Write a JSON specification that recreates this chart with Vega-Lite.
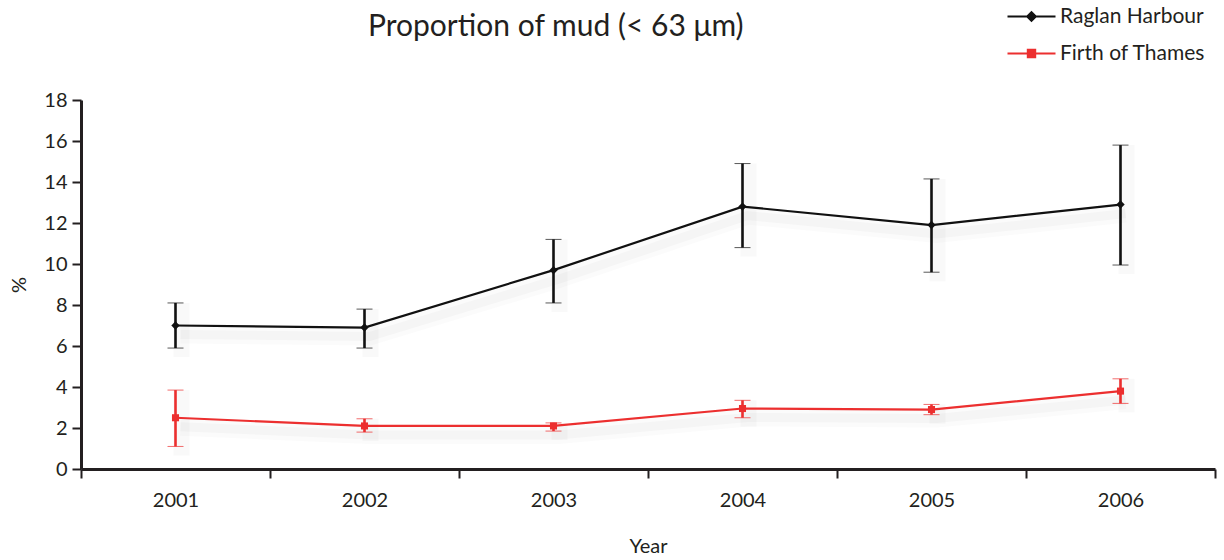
{
  "$schema": "https://vega.github.io/schema/vega-lite/v6.json",
  "autosize": "none",
  "width": 1134,
  "height": 369,
  "padding": {"left": 81, "top": 100, "right": 9, "bottom": 91},
  "background": "white",
  "config": {
    "font": "Lato",
    "view": {"stroke": null},
    "axis": {"domainColor": "#231f20", "tickColor": "#231f20", "labelColor": "#231f20", "titleColor": "#231f20", "grid": false}
  },
  "title": {
    "text": "Proportion of mud (< 63 μm)",
    "fontSize": 30,
    "fontWeight": "normal",
    "color": "#231f20",
    "anchor": "start",
    "frame": "group",
    "dx": 287,
    "offset": -37
  },
  "data": {
    "values": [
      {"Year": "2001", "site": "Raglan Harbour", "value": 7.0, "lo": 5.9, "hi": 8.1},
      {"Year": "2002", "site": "Raglan Harbour", "value": 6.9, "lo": 5.9, "hi": 7.8},
      {"Year": "2003", "site": "Raglan Harbour", "value": 9.7, "lo": 8.1, "hi": 11.2},
      {"Year": "2004", "site": "Raglan Harbour", "value": 12.8, "lo": 10.8, "hi": 14.9},
      {"Year": "2005", "site": "Raglan Harbour", "value": 11.9, "lo": 9.6, "hi": 14.15},
      {"Year": "2006", "site": "Raglan Harbour", "value": 12.9, "lo": 9.95, "hi": 15.8},
      {"Year": "2001", "site": "Firth of Thames", "value": 2.5, "lo": 1.1, "hi": 3.85},
      {"Year": "2002", "site": "Firth of Thames", "value": 2.1, "lo": 1.8, "hi": 2.45},
      {"Year": "2003", "site": "Firth of Thames", "value": 2.1, "lo": 1.85, "hi": 2.25},
      {"Year": "2004", "site": "Firth of Thames", "value": 2.95, "lo": 2.5, "hi": 3.35},
      {"Year": "2005", "site": "Firth of Thames", "value": 2.9, "lo": 2.65, "hi": 3.15},
      {"Year": "2006", "site": "Firth of Thames", "value": 3.8, "lo": 3.2, "hi": 4.4}
    ]
  },
  "encoding": {
    "x": {
      "field": "Year",
      "type": "ordinal",
      "scale": {"paddingInner": 0, "paddingOuter": 0},
      "axis": {
        "title": "Year",
        "titleFontSize": 20,
        "titleFontWeight": "normal",
        "titlePadding": 26,
        "labelFontSize": 20,
        "labelAngle": 0,
        "labelPadding": 12,
        "tickBand": "extent",
        "tickSize": 9,
        "tickWidth": 2,
        "domainWidth": 3
      }
    }
  },
  "resolve": {"legend": {"color": "independent", "shape": "independent", "size": "independent"}},
  "layer": [
    {
      "mark": {"type": "line", "strokeWidth": 18, "opacity": 0.025, "yOffset": 9, "xOffset": 5},
      "encoding": {
        "y": {"field": "value", "type": "quantitative", "axis": {"title": "%"}},
        "detail": {"field": "site"},
        "color": {"value": "#555555"}
      }
    },
    {
      "mark": {"type": "line", "strokeWidth": 9, "opacity": 0.035, "yOffset": 9, "xOffset": 5},
      "encoding": {
        "y": {"field": "value", "type": "quantitative", "axis": {"title": "%"}},
        "detail": {"field": "site"},
        "color": {"value": "#555555"}
      }
    },
    {
      "mark": {"type": "rule", "strokeWidth": 16, "opacity": 0.035, "yOffset": 9, "xOffset": 6},
      "encoding": {
        "y": {"field": "lo", "type": "quantitative", "axis": {"title": "%"}},
        "y2": {"field": "hi"},
        "color": {"value": "#555555"}
      }
    },
    {
      "mark": {"type": "errorbar", "ticks": {"size": 16, "strokeWidth": 2.6}, "rule": {"strokeWidth": 2.6}},
      "encoding": {
        "y": {"field": "lo", "type": "quantitative", "axis": {"title": "%"}},
        "y2": {"field": "hi"},
        "color": {"field": "site", "type": "nominal", "legend": null,
          "scale": {"domain": ["Raglan Harbour", "Firth of Thames"], "range": ["#111111", "#ec2f2f"]}}
      }
    },
    {
      "mark": {"type": "line", "strokeWidth": 2.2},
      "encoding": {
        "y": {
          "field": "value",
          "type": "quantitative",
          "scale": {"domain": [0, 18]},
          "axis": {
            "title": "%",
            "titleFontSize": 20,
            "titleFontWeight": "normal",
            "titlePadding": 14,
            "values": [0, 2, 4, 6, 8, 10, 12, 14, 16, 18],
            "labelFontSize": 20,
            "labelPadding": 5,
            "tickSize": 9,
            "tickWidth": 2,
            "domainWidth": 3
          }
        },
        "color": {
          "field": "site",
          "type": "nominal",
          "scale": {"domain": ["Raglan Harbour", "Firth of Thames"], "range": ["#111111", "#ec2f2f"]},
          "legend": {
            "title": null,
            "orient": "none",
            "legendX": 939,
            "legendY": -95,
            "labelFontSize": 21,
            "labelColor": "#231f20",
            "symbolSize": 400,
            "labelOffset": 17,
            "rowPadding": 15,
            "symbolStrokeWidth": 2.2,
            "encode": {
              "symbols": {
                "update": {
                  "shape": {"signal": "datum.value === 'Raglan Harbour' ? 'M-2.4,0H2.4M-0.42,0L0,-0.42L0.42,0L0,0.42Z' : 'M-2.4,0H2.4M-0.36,-0.36H0.36V0.36H-0.36Z'"},
                  "fill": {"signal": "datum.value === 'Raglan Harbour' ? '#111111' : '#ec2f2f'"},
                  "stroke": {"signal": "datum.value === 'Raglan Harbour' ? '#111111' : '#ec2f2f'"},
                  "strokeWidth": {"value": 2.2}
                }
              }
            }
          }
        }
      }
    },
    {
      "mark": {"type": "point", "filled": true, "opacity": 1},
      "encoding": {
        "y": {"field": "value", "type": "quantitative", "axis": {"title": "%"}},
        "color": {"field": "site", "type": "nominal", "legend": null},
        "shape": {"field": "site", "type": "nominal", "legend": null,
          "scale": {"domain": ["Raglan Harbour", "Firth of Thames"], "range": ["diamond", "square"]}},
        "size": {"field": "site", "type": "nominal", "legend": null,
          "scale": {"domain": ["Raglan Harbour", "Firth of Thames"], "range": [70, 50]}}
      }
    }
  ]
}
